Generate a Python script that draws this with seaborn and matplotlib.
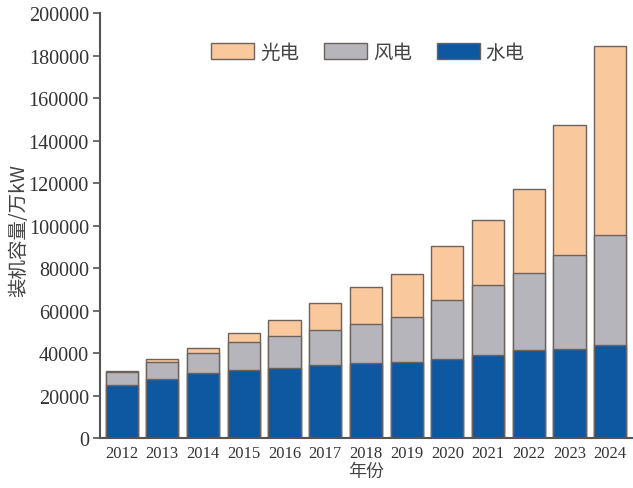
import numpy as np
import pandas as pd
import seaborn as sns
import matplotlib.pyplot as plt

# installed capacity, 10^4 kW
years = ['2012', '2013', '2014', '2015', '2016', '2017', '2018',
         '2019', '2020', '2021', '2022', '2023', '2024']
hydro = [24947, 28044, 30486, 31954, 33207, 34411, 35259,
         35804, 37016, 39092, 41350, 42154, 43595]
wind = [6142, 7652, 9657, 13075, 14747, 16367, 18426,
        21005, 28153, 32848, 36544, 44134, 52068]
solar = [341, 1589, 2486, 4218, 7742, 13025, 17463,
         20468, 25343, 30656, 39261, 60949, 88666]
labels = ['光电', '风电', '水电']
colors = ['#F9C89C', '#B5B5BB', '#0E57A1']

sns.set_style("ticks")
cjk = ['Noto Sans CJK SC', 'DejaVu Sans']
num_font = 'Liberation Serif'
txt = '#333333'

df = pd.DataFrame({'year': years, 'hydro': hydro, 'wind': wind, 'solar': solar})
df['hw'] = df['hydro'] + df['wind']
df['total'] = df['hw'] + df['solar']

fig = plt.figure(figsize=(6.33, 4.89), dpi=100)
ax = fig.add_axes([0.158, 0.102, 0.84, 0.869])

# draw cumulative totals on top of each other so they look stacked
for col, c in zip(['total', 'hw', 'hydro'], colors):
  sns.barplot(data=df, x='year', y=col, color=c, ax=ax, width=0.79,
              edgecolor='#6e625c', linewidth=1.0, saturation=1)

ax.set_xlim(-0.53, 12.53)
ax.set_ylim(0, 200000)
ax.set_yticks(np.arange(0, 200001, 20000))
ax.set_yticklabels([str(v) for v in range(0, 200001, 20000)],
                   fontfamily=num_font, fontsize=14.5, color=txt)
ax.set_xticks(range(len(years)))
ax.set_xticklabels(years, fontfamily=num_font, fontsize=12, color=txt)
ax.tick_params(axis='y', direction='out', length=5, width=1.2, color='#555555', pad=3)
ax.tick_params(axis='x', direction='in', length=5, width=1.0, color='#444444', pad=5)

sns.despine(ax=ax)
for s in ['left', 'bottom']:
  ax.spines[s].set_color('#555555')
  ax.spines[s].set_linewidth(1.5)

ax.set_ylabel('装机容量/万kW', family=cjk, fontsize=14, color='#444444',
              fontweight='light')
ax.yaxis.set_label_coords(-0.133, 0.49)
ax.set_xlabel('年份', family=cjk, fontsize=13, color='#444444',
              fontweight='light', labelpad=1)

handles = [plt.Rectangle((0, 0), 1, 1, facecolor=c, edgecolor='#6e625c', linewidth=1.0)
           for c in colors]
ax.legend(handles, labels, loc='center', bbox_to_anchor=(0.504, 0.908), ncol=3,
          frameon=False, prop={'family': cjk, 'size': 14, 'weight': 'light'},
          labelcolor='#444444', handlelength=2.2, handleheight=0.95,
          handletextpad=0.3, columnspacing=1.3)

plt.savefig('out.png', dpi=100)
